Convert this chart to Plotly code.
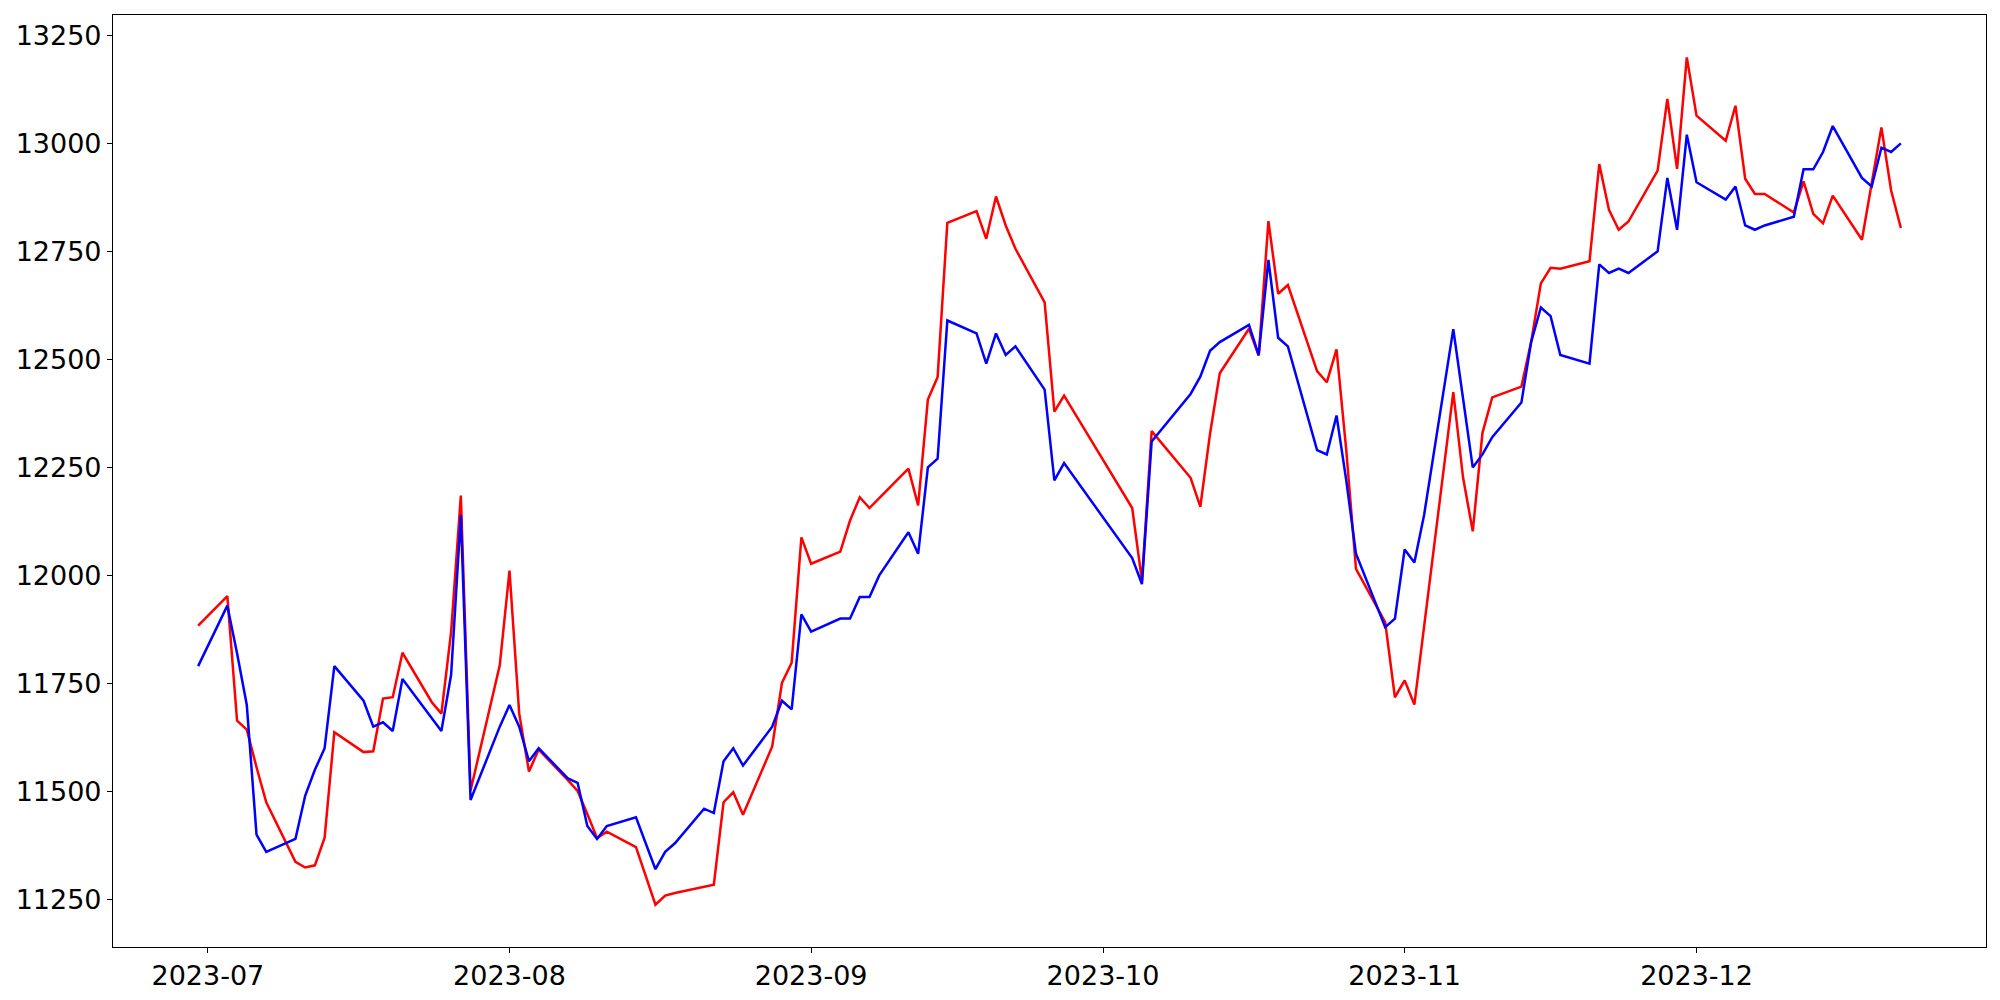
import pandas as pd
import plotly.graph_objects as go

dates = [
    "2023-06-30",
    "2023-07-03", "2023-07-04", "2023-07-05", "2023-07-06", "2023-07-07",
    "2023-07-10", "2023-07-11", "2023-07-12", "2023-07-13", "2023-07-14",
    "2023-07-17", "2023-07-18", "2023-07-19", "2023-07-20", "2023-07-21",
    "2023-07-24", "2023-07-25", "2023-07-26", "2023-07-27", "2023-07-28",
    "2023-07-31", "2023-08-01", "2023-08-02", "2023-08-03", "2023-08-04",
    "2023-08-07", "2023-08-08", "2023-08-09", "2023-08-10", "2023-08-11",
    "2023-08-14", "2023-08-16", "2023-08-17", "2023-08-18",
    "2023-08-21", "2023-08-22", "2023-08-23", "2023-08-24", "2023-08-25",
    "2023-08-28", "2023-08-29", "2023-08-30", "2023-08-31", "2023-09-01",
    "2023-09-04", "2023-09-05", "2023-09-06", "2023-09-07", "2023-09-08",
    "2023-09-11", "2023-09-12", "2023-09-13", "2023-09-14", "2023-09-15",
    "2023-09-18", "2023-09-19", "2023-09-20", "2023-09-21", "2023-09-22",
    "2023-09-25", "2023-09-26", "2023-09-27",
    "2023-10-04", "2023-10-05", "2023-10-06",
    "2023-10-10", "2023-10-11", "2023-10-12", "2023-10-13",
    "2023-10-16", "2023-10-17", "2023-10-18", "2023-10-19", "2023-10-20",
    "2023-10-23", "2023-10-24", "2023-10-25", "2023-10-26", "2023-10-27",
    "2023-10-30", "2023-10-31", "2023-11-01", "2023-11-02", "2023-11-03",
    "2023-11-06", "2023-11-07", "2023-11-08", "2023-11-09", "2023-11-10",
    "2023-11-13", "2023-11-14", "2023-11-15", "2023-11-16", "2023-11-17",
    "2023-11-20", "2023-11-21", "2023-11-22", "2023-11-23", "2023-11-24",
    "2023-11-27", "2023-11-28", "2023-11-29", "2023-11-30", "2023-12-01",
    "2023-12-04", "2023-12-05", "2023-12-06", "2023-12-07", "2023-12-08",
    "2023-12-11", "2023-12-12", "2023-12-13", "2023-12-14", "2023-12-15",
    "2023-12-18", "2023-12-19", "2023-12-20", "2023-12-21", "2023-12-22",
]

red_values = [
    11884,
    11952, 11664, 11643, 11556, 11475,
    11337, 11324, 11329, 11393, 11637,
    11591, 11593, 11715, 11718, 11821,
    11707, 11680, 11869, 12185, 11502,
    11792, 12011, 11680, 11546, 11597,
    11526, 11501, 11448, 11392, 11407,
    11371, 11238, 11259, 11265,
    11280, 11284, 11475, 11498, 11446,
    11604, 11751, 11798, 12088, 12027,
    12055, 12127, 12181, 12156, 12179,
    12247, 12162, 12407, 12459, 12816,
    12843, 12779, 12877, 12810, 12756,
    12632, 12379, 12416,
    12156, 11988, 12334,
    12226, 12159, 12328, 12468,
    12571, 12509, 12820, 12652, 12672,
    12473, 12447, 12523, 12290, 12015,
    11892, 11718, 11757, 11701, 11880,
    12424, 12227, 12102, 12330, 12412,
    12437, 12540, 12676, 12712, 12710,
    12727, 12952, 12846, 12800, 12819,
    12937, 13103, 12941, 13199, 13064,
    13006, 13087, 12918, 12883, 12883,
    12840, 12912, 12837, 12815, 12879,
    12777, 12907, 13037, 12891, 12804,
]

blue_values = [
    11790,
    11930, 11820, 11700, 11400, 11360,
    11390, 11490, 11550, 11600, 11790,
    11710, 11650, 11660, 11640, 11760,
    11670, 11640, 11770, 12140, 11480,
    11650, 11700, 11650, 11570, 11600,
    11530, 11520, 11420, 11390, 11420,
    11440, 11320, 11360, 11380,
    11460, 11450, 11570, 11600, 11560,
    11650, 11710, 11690, 11910, 11870,
    11900, 11900, 11950, 11950, 12000,
    12100, 12050, 12250, 12270, 12590,
    12560, 12490, 12560, 12510, 12530,
    12430, 12220, 12260,
    12040, 11980, 12310,
    12420, 12460, 12520, 12540,
    12580, 12510, 12730, 12550, 12530,
    12290, 12280, 12370, 12220, 12050,
    11880, 11900, 12060, 12030, 12140,
    12570, 12410, 12250, 12280, 12320,
    12400, 12540, 12620, 12600, 12510,
    12490, 12720, 12700, 12710, 12700,
    12750, 12920, 12800, 13020, 12910,
    12870, 12900, 12810, 12800, 12810,
    12830, 12940, 12940, 12980, 13040,
    12920, 12900, 12990, 12980, 13000,
]

y_tick_values = [11250, 11500, 11750, 12000, 12250, 12500, 12750, 13000, 13250]

x = pd.to_datetime(dates)

fig = go.Figure()
fig.add_trace(go.Scatter(x=x, y=red_values, mode="lines",
                         line=dict(color="#ff0000", width=2.5), showlegend=False))
fig.add_trace(go.Scatter(x=x, y=blue_values, mode="lines",
                         line=dict(color="#0000ff", width=2.5), showlegend=False))

# matplotlib-like 5% margins
span = x.max() - x.min()
x_range = [x.min() - span * 0.05, x.max() + span * 0.05]
all_vals = red_values + blue_values
vmin, vmax = min(all_vals), max(all_vals)
vspan = vmax - vmin
y_range = [vmin - 0.05 * vspan, vmax + 0.05 * vspan]

font = dict(family="DejaVu Sans", size=27, color="black")

# page body has an 8px default margin, so the figure is sized to fit
fig.update_layout(
    width=1992, height=992,
    margin=dict(l=105, r=14, t=7, b=53),
    paper_bgcolor="white", plot_bgcolor="white",
    font=font,
    showlegend=False,
)
fig.update_xaxes(
    type="date", range=x_range, automargin=False,
    tick0="2023-07-01", dtick="M1", tickformat="%Y-%m",
    showgrid=False, zeroline=False,
    showline=True, linecolor="black", linewidth=1.1, mirror=True,
    ticks="outside", ticklen=5, tickwidth=1.1, tickcolor="black",
    tickfont=font,
)
fig.update_yaxes(
    range=y_range, tickvals=y_tick_values, automargin=False,
    ticktext=[str(v) for v in y_tick_values],
    showgrid=False, zeroline=False,
    showline=True, linecolor="black", linewidth=1.1, mirror=True,
    ticks="outside", ticklen=5, tickwidth=1.1, tickcolor="black",
    tickfont=font,
)

fig.write_html("out.html")
